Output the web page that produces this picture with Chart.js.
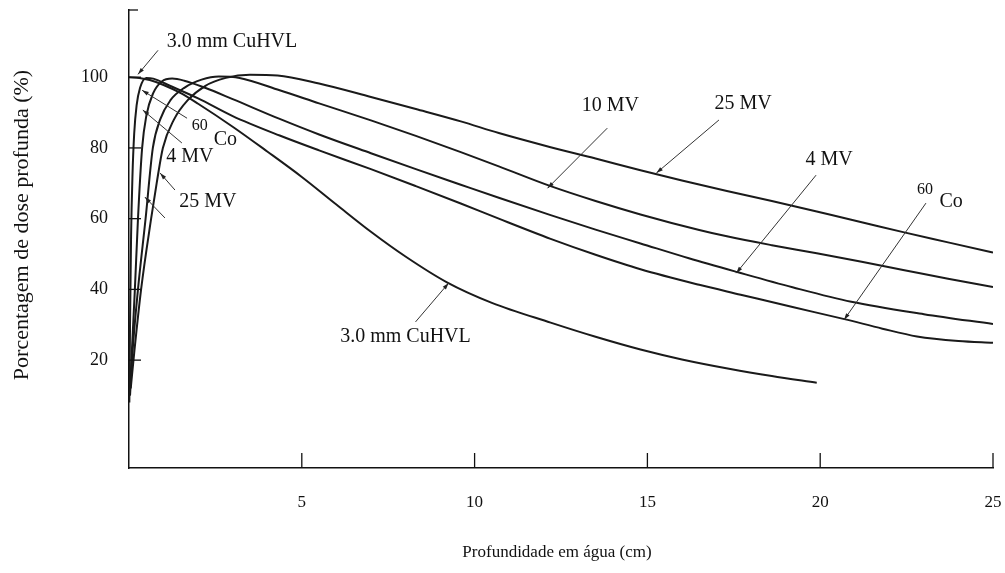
<!DOCTYPE html>
<html>
<head>
<meta charset="utf-8">
<script src="https://cdn.jsdelivr.net/npm/chart.js@4.4.1/dist/chart.umd.min.js"></script>
<style>
  html, body { margin: 0; padding: 0; background: #fff; }
  #wrap { width: 1005px; height: 573px; position: relative; }
</style>
</head>
<body>
<div id="wrap"><canvas id="grafico"></canvas></div>
<script>
// profundidade (cm) / dose (%) de cada feixe
const cuDepth = [0, 0.3, 0.6, 1, 1.5, 2, 3, 4, 5, 6, 7, 8, 9.2, 10.5, 12.2, 13.5, 14.8, 16, 17.4, 18.6, 19.9];
const cuDose  = [100, 99.8, 99.2, 97.8, 95.5, 92.5, 86, 79, 71.8, 64, 56.3, 49.3, 42, 36.2, 30.6, 26.6, 23, 20.2, 17.5, 15.5, 13.6];

const coDepth = [0.01, 0.03, 0.06, 0.1, 0.15, 0.22, 0.32, 0.5, 0.7, 1.2, 2, 3, 4.36, 5.5, 7, 8.3, 9.6, 10.7, 12.2, 13.5, 14.8, 16.5, 17.7, 19.2, 20.7, 21.8, 22.8, 24, 25];
const coDose  = [8, 30, 55, 72, 84, 92, 97, 99.8, 99.6, 97.5, 94, 89, 83.5, 79.3, 74, 69.2, 64.3, 60, 54.3, 49.8, 45.7, 41.3, 38.5, 35, 31.6, 28.9, 26.7, 25.4, 24.9];

const mv4Depth = [0.02, 0.08, 0.17, 0.26, 0.38, 0.5, 0.7, 0.95, 1.25, 1.6, 2.2, 3, 4.36, 5.5, 7, 8.3, 9.6, 10.7, 12.2, 13.5, 14.8, 16.2, 17.6, 19.2, 20.9, 23, 25];
const mv4Dose  = [10, 22, 40, 60, 80, 89, 95.5, 98.8, 99.6, 99, 97, 93.8, 88.2, 83.8, 78.5, 74, 69.6, 65.9, 61, 56.9, 53, 48.8, 44.9, 40.6, 36.5, 33, 30.2];

const mv10Depth = [0.03, 0.1, 0.26, 0.48, 0.69, 0.9, 1.2, 1.6, 2.1, 2.6, 3.2, 4.36, 5.5, 7, 8.3, 9.6, 10.7, 12.2, 13.5, 14.8, 16.5, 17.3, 18.6, 19.9, 21.2, 22.4, 23.7, 25];
const mv10Dose  = [10, 22, 40, 60, 80, 88, 93.5, 97, 99.3, 100.2, 99.8, 96.3, 92.6, 87.8, 83.4, 78.8, 74.8, 69.2, 65, 61.2, 56.8, 55, 52.5, 50.2, 47.8, 45.5, 43, 40.7];

const mv25Depth = [0.05, 0.15, 0.35, 0.64, 0.8, 0.98, 1.3, 1.7, 2.2, 2.8, 3.5, 4.3, 5.5, 7, 8.3, 9.6, 10.7, 12.2, 13.5, 14.8, 16, 17.3, 18.6, 19.9, 21.2, 22.4, 23.7, 25];
const mv25Dose  = [12, 22, 40, 60, 70, 80, 88, 93.5, 97.5, 99.8, 100.7, 100.5, 98.2, 94.4, 91, 87.5, 84.2, 80.2, 77, 73.7, 70.8, 67.8, 65, 62, 59, 56.2, 53.3, 50.4];

const xTicks = [5, 10, 15, 20, 25];
const yTicks = [20, 40, 60, 80, 100];

// rotulos e setas, em coordenadas do grafico
const rotulos = [
  { text: '3.0 mm CuHVL', x: 2.98, y: 109.9, size: 20 },
  { text: '60', x: 2.05, y: 86.2, size: 16 },
  { text: 'Co', x: 2.79, y: 82.2, size: 20 },
  { text: '4 MV', x: 1.76, y: 77.4, size: 20 },
  { text: '25 MV', x: 2.28, y: 64.7, size: 20 },
  { text: '10 MV', x: 13.93, y: 91.8, size: 20 },
  { text: '25 MV', x: 17.77, y: 92.4, size: 20 },
  { text: '4 MV', x: 20.26, y: 76.6, size: 20 },
  { text: '60', x: 23.03, y: 68.1, size: 16 },
  { text: 'Co', x: 23.79, y: 64.7, size: 20 },
  { text: '3.0 mm CuHVL', x: 8.0, y: 26.6, size: 20 }
];
const setas = [
  [0.84, 107.6, 0.26, 100.8],
  [1.68, 88.4, 0.38, 96.3],
  [1.53, 81.4, 0.40, 90.7],
  [1.33, 68.1, 0.90, 72.9],
  [1.04, 60.2, 0.46, 66.1],
  [13.84, 85.6, 12.11, 68.6],
  [17.07, 87.9, 15.26, 72.9],
  [19.88, 72.3, 17.57, 44.6],
  [23.06, 64.4, 20.69, 31.4],
  [8.29, 30.8, 9.25, 41.8]
];

const pts = (xs, ys) => xs.map((v, i) => ({ x: v, y: ys[i] }));
const serie = (label, xs, ys) => ({
  label,
  data: pts(xs, ys),
  borderColor: '#1a1a1a',
  borderWidth: 2,
  pointRadius: 0,
  fill: false,
  cubicInterpolationMode: 'monotone'
});

const desenho = {
  id: 'desenho',
  afterDraw(chart) {
    const { ctx, chartArea: area, scales: { x, y } } = chart;
    const seg = (x1, y1, x2, y2) => { ctx.beginPath(); ctx.moveTo(x1, y1); ctx.lineTo(x2, y2); ctx.stroke(); };
    ctx.save();
    ctx.strokeStyle = '#111';
    ctx.lineWidth = 1.3;
    xTicks.forEach(v => { const px = x.getPixelForValue(v); seg(px, area.bottom, px, area.bottom - 15); });
    yTicks.forEach(v => { const py = y.getPixelForValue(v); seg(area.left, py, area.left + 12, py); });
    seg(area.left, area.top, area.left + 9, area.top);

    // setas
    ctx.strokeStyle = '#333';
    ctx.fillStyle = '#222';
    ctx.lineWidth = 1;
    setas.forEach(s => {
      const x1 = x.getPixelForValue(s[0]), y1 = y.getPixelForValue(s[1]);
      const x2 = x.getPixelForValue(s[2]), y2 = y.getPixelForValue(s[3]);
      seg(x1, y1, x2, y2);
      const a = Math.atan2(y2 - y1, x2 - x1);
      ctx.beginPath();
      ctx.moveTo(x2, y2);
      ctx.lineTo(x2 - 7 * Math.cos(a - 0.3), y2 - 7 * Math.sin(a - 0.3));
      ctx.lineTo(x2 - 7 * Math.cos(a + 0.3), y2 - 7 * Math.sin(a + 0.3));
      ctx.closePath();
      ctx.fill();
    });

    // textos
    ctx.fillStyle = '#111';
    ctx.textAlign = 'center';
    ctx.textBaseline = 'middle';
    rotulos.forEach(r => {
      ctx.font = r.size + 'px "Liberation Serif", serif';
      ctx.fillText(r.text, x.getPixelForValue(r.x), y.getPixelForValue(r.y));
    });

    ctx.font = '17px "Liberation Serif", serif';
    ctx.fillText('Profundidade em água (cm)', 557, 553);
    ctx.translate(22, 225);
    ctx.rotate(-Math.PI / 2);
    ctx.font = '22px "Liberation Serif", serif';
    ctx.fillText('Porcentagem de dose profunda (%)', 0, 0);
    ctx.restore();
  }
};

new Chart(document.getElementById('grafico').getContext('2d'), {
  type: 'line',
  data: {
    datasets: [
      serie('3.0 mm CuHVL', cuDepth, cuDose),
      serie('60Co', coDepth, coDose),
      serie('4 MV', mv4Depth, mv4Dose),
      serie('10 MV', mv10Depth, mv10Dose),
      serie('25 MV', mv25Depth, mv25Dose)
    ]
  },
  options: {
    responsive: true,
    maintainAspectRatio: false,
    animation: false,
    layout: { padding: { top: 10, right: 12, left: 0, bottom: 0 } },
    plugins: { legend: { display: false }, tooltip: { enabled: false } },
    scales: {
      x: {
        type: 'linear',
        min: 0,
        max: 25,
        afterBuildTicks: s => { s.ticks = xTicks.map(v => ({ value: v })); },
        afterFit: s => { s.height = 105; s.paddingLeft = 0; s.paddingRight = 0; },
        grid: { display: false, drawTicks: false },
        border: { display: true, color: '#111', width: 1.5 },
        ticks: { color: '#111', padding: 24, maxRotation: 0, font: { family: '"Liberation Serif", serif', size: 17 } }
      },
      y: {
        min: -10.5,
        max: 119,
        afterBuildTicks: s => { s.ticks = yTicks.map(v => ({ value: v })); },
        afterFit: s => { s.width = 129; s.paddingTop = 0; s.paddingBottom = 0; },
        grid: { display: false, drawTicks: false },
        border: { display: true, color: '#111', width: 1.5 },
        ticks: { color: '#111', padding: 21, font: { family: '"Liberation Serif", serif', size: 18 } }
      }
    }
  },
  plugins: [desenho]
});
</script>
</body>
</html>
